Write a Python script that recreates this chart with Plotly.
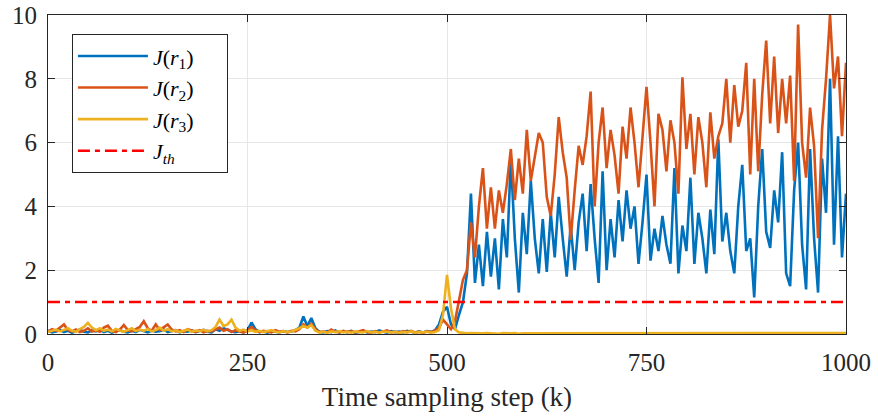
import plotly.graph_objects as go

# Sample steps (every 5th step of the 1000-step run)
steps = list(range(0, 1001, 5))

# J(r1)
j_r1_pre = [
    0.10, 0.05, 0.08, 0.12, 0.06, 0.10, 0.04, 0.09, 0.14, 0.07,
    0.05, 0.11, 0.08, 0.13, 0.06, 0.10, 0.04, 0.09, 0.12, 0.07,
    0.05, 0.10, 0.06, 0.13, 0.08, 0.05, 0.11, 0.07, 0.09, 0.14,
    0.06, 0.08, 0.12, 0.05, 0.09, 0.07, 0.11, 0.06, 0.10, 0.13,
    0.07, 0.05, 0.15, 0.10, 0.18, 0.12, 0.08, 0.06, 0.09, 0.05,
    0.12, 0.36, 0.15, 0.06, 0.08, 0.04, 0.10, 0.07, 0.05, 0.09,
    0.06, 0.08, 0.12, 0.20, 0.55, 0.25, 0.50, 0.18, 0.07, 0.05,
    0.09, 0.06, 0.11, 0.05, 0.08, 0.06, 0.10, 0.04, 0.07, 0.09,
    0.05, 0.08, 0.06, 0.11, 0.07, 0.04, 0.09, 0.06, 0.08, 0.05,
    0.10, 0.06, 0.04, 0.08, 0.05, 0.09, 0.06, 0.12, 0.30, 0.70,
    0.85, 0.30, 0.15, 0.60, 1.00,
]
j_r1_post = [
    1.9, 4.4, 1.6, 2.8, 1.5, 3.2, 1.8, 3.0, 1.4, 3.6, 2.4, 5.5, 3.0, 1.3, 3.8, 2.5, 4.8, 3.0, 1.9,
    3.6, 1.95, 3.8, 2.4, 4.3, 3.0, 1.8, 3.4, 2.0, 3.5, 4.4, 2.6, 4.7, 3.0, 1.6, 5.1, 2.0, 3.6,
    2.4, 4.2, 2.9, 4.5, 3.3, 4.0, 2.2, 3.5, 5.0,
    2.3, 3.3, 2.6, 3.7, 2.8, 2.2, 5.2, 1.9, 3.4, 2.6, 4.9, 2.2, 3.8, 3.0, 1.9, 3.9, 2.5, 6.1,
    2.9, 3.8, 2.6, 1.9, 4.0, 5.3, 2.6,
    3.0, 1.15, 4.0, 5.8, 3.2, 2.7, 4.5, 3.5, 5.7, 1.9, 1.5, 4.5, 6.0, 2.8, 1.4, 5.8, 3.0, 1.3,
    5.5, 3.8, 8.0, 2.8, 6.2, 2.4, 4.4,
]

# J(r2)
j_r2_pre = [
    0.08, 0.15, 0.10, 0.20, 0.30, 0.12, 0.08, 0.14, 0.06, 0.10,
    0.18, 0.08, 0.12, 0.07, 0.20, 0.26, 0.10, 0.06, 0.14, 0.28,
    0.12, 0.08, 0.15, 0.22, 0.40, 0.18, 0.10, 0.30, 0.12, 0.20,
    0.30, 0.14, 0.08, 0.12, 0.06, 0.15, 0.10, 0.07, 0.12, 0.05,
    0.10, 0.08, 0.14, 0.20, 0.10, 0.15, 0.06, 0.12, 0.08, 0.05,
    0.10, 0.22, 0.12, 0.06, 0.10, 0.08, 0.05, 0.12, 0.07, 0.09,
    0.05, 0.10, 0.08, 0.15, 0.30, 0.20, 0.32, 0.15, 0.06, 0.08,
    0.05, 0.14, 0.07, 0.05, 0.10, 0.06, 0.09, 0.05, 0.08, 0.12,
    0.06, 0.04, 0.09, 0.05, 0.08, 0.11, 0.05, 0.07, 0.04, 0.09,
    0.06, 0.10, 0.05, 0.07, 0.04, 0.08, 0.06, 0.10, 0.20, 0.45,
    0.30, 0.15, 0.40, 1.00, 1.70,
]
j_r2_post = [
    2.0, 3.5, 2.4, 4.0, 5.2, 3.3, 4.6, 3.3, 4.5, 3.8, 4.7, 5.8, 4.2, 5.5, 4.4, 6.4, 4.8, 5.6, 6.3,
    6.0, 4.3, 3.7, 5.0, 6.8, 5.7, 4.9, 2.95, 4.5, 5.9, 5.3, 6.2, 7.6, 4.0, 6.0, 7.1, 5.2, 6.4,
    5.6, 4.4, 6.5, 5.5, 7.1, 6.0, 4.6, 6.3, 7.75,
    6.0, 4.0, 6.9, 6.4, 5.1, 6.7, 6.0, 4.4, 8.05, 5.8, 6.9, 5.0, 6.8, 6.0, 4.6, 6.95, 5.5, 6.2,
    6.6, 8.0, 6.0, 7.8, 6.5, 7.0, 8.5,
    5.0, 8.0, 5.1, 7.5, 9.2, 6.6, 8.7, 6.3, 8.0, 6.6, 8.1, 4.8, 9.7, 6.0, 4.9, 7.1, 5.9, 3.0,
    6.4, 8.0, 10.0, 7.7, 8.7, 6.2, 8.5,
]

# J(r3)
j_r3_pre = [
    0.06, 0.10, 0.14, 0.08, 0.12, 0.18, 0.10, 0.07, 0.15, 0.22,
    0.35, 0.20, 0.12, 0.18, 0.10, 0.14, 0.08, 0.16, 0.11, 0.07,
    0.12, 0.18, 0.09, 0.14, 0.10, 0.16, 0.08, 0.12, 0.20, 0.10,
    0.15, 0.08, 0.12, 0.06, 0.10, 0.14, 0.07, 0.11, 0.09, 0.13,
    0.08, 0.12, 0.22, 0.45, 0.25, 0.30, 0.45, 0.20, 0.10, 0.14,
    0.08, 0.12, 0.07, 0.10, 0.06, 0.09, 0.12, 0.07, 0.05, 0.09,
    0.06, 0.08, 0.12, 0.18, 0.25, 0.20, 0.28, 0.10, 0.05, 0.07,
    0.04, 0.08, 0.06, 0.09, 0.05, 0.07, 0.04, 0.08, 0.06, 0.05,
    0.09, 0.05, 0.07, 0.04, 0.08, 0.06, 0.05, 0.07, 0.04, 0.06,
    0.05, 0.08, 0.04, 0.06, 0.05, 0.07, 0.04, 0.06, 0.12, 0.60,
    1.85, 0.80, 0.15, 0.05, 0.03,
]
j_r3_post = [
    0.02, 0.03, 0.02, 0.01, 0.02, 0.03, 0.02, 0.02, 0.01, 0.03, 0.02, 0.02, 0.03, 0.01, 0.02, 0.02,
    0.03, 0.02, 0.01, 0.02, 0.03, 0.02, 0.02, 0.01, 0.03, 0.02, 0.02, 0.03, 0.01, 0.02, 0.02, 0.03,
    0.02, 0.01, 0.02, 0.03, 0.02, 0.02, 0.01, 0.03, 0.02, 0.02, 0.03, 0.01, 0.02, 0.02, 0.03, 0.02,
    0.01, 0.02, 0.03, 0.02, 0.02, 0.01, 0.03, 0.02, 0.02, 0.03, 0.01, 0.02, 0.02, 0.03, 0.02, 0.01,
    0.02, 0.03, 0.02, 0.02, 0.01, 0.03, 0.02, 0.02, 0.03, 0.01, 0.02, 0.02, 0.03, 0.02, 0.01, 0.02,
    0.03, 0.02, 0.02, 0.01, 0.03, 0.02, 0.02, 0.03, 0.01, 0.02, 0.02, 0.03, 0.02, 0.01, 0.02, 0.03,
]

j_r1 = j_r1_pre + j_r1_post
j_r2 = j_r2_pre + j_r2_post
j_r3 = j_r3_pre + j_r3_post

# threshold
j_th = 1.0
th_steps = [0, 1000]

x_ticks = [0, 250, 500, 750, 1000]
y_ticks = [0, 2, 4, 6, 8, 10]

pad = "\u00a0" * 5  # widen the legend box like the original
series = [
    ("<i>J</i>(<i>r</i><sub>1</sub>)" + pad, j_r1, "#0072BD"),
    ("<i>J</i>(<i>r</i><sub>2</sub>)" + pad, j_r2, "#D95319"),
    ("<i>J</i>(<i>r</i><sub>3</sub>)" + pad, j_r3, "#EDB120"),
]

fig = go.Figure()
for name, vals, color in series:
    fig.add_trace(go.Scatter(
        x=steps, y=vals, mode="lines", name=name,
        line=dict(color=color, width=2.6),
    ))

fig.add_trace(go.Scatter(
    x=th_steps, y=[j_th, j_th], mode="lines",
    name="<i>J<sub>th</sub></i>" + pad,
    line=dict(color="#FF0000", width=2.5, dash="12px,5px,5px,5px"),
))

axis_style = dict(
    showline=True, linecolor="#262626", linewidth=1, mirror="ticks",
    ticks="inside", ticklen=7, tickcolor="#262626", automargin=False,
    showgrid=True, gridcolor="#e6e6e6", gridwidth=1, zeroline=False,
    tickfont=dict(family="Liberation Serif", size=25, color="#262626"),
)

fig.update_layout(
    width=878, height=416,
    margin=dict(l=48, r=32, t=15, b=82),
    plot_bgcolor="white", paper_bgcolor="white",
    font=dict(family="Liberation Serif", color="#262626"),
    xaxis=dict(
        range=[0, 1000], tickvals=x_ticks, **axis_style, ticklabelstandoff=6,
        title=dict(text="Time sampling step (k)", font=dict(size=27), standoff=12),
    ),
    yaxis=dict(range=[0, 10], tickvals=y_ticks, **axis_style, ticklabelstandoff=5),
    legend=dict(
        x=0.03, y=0.94, xanchor="left", yanchor="top",
        bgcolor="white", bordercolor="#262626", borderwidth=1,
        font=dict(family="Liberation Serif", size=22, color="#000000"),
        tracegroupgap=0, itemwidth=70,
    ),
    showlegend=True,
)

fig.write_html(
    "out.html",
    config={"displayModeBar": False},
    post_script="document.body.style.margin='0';",
)
